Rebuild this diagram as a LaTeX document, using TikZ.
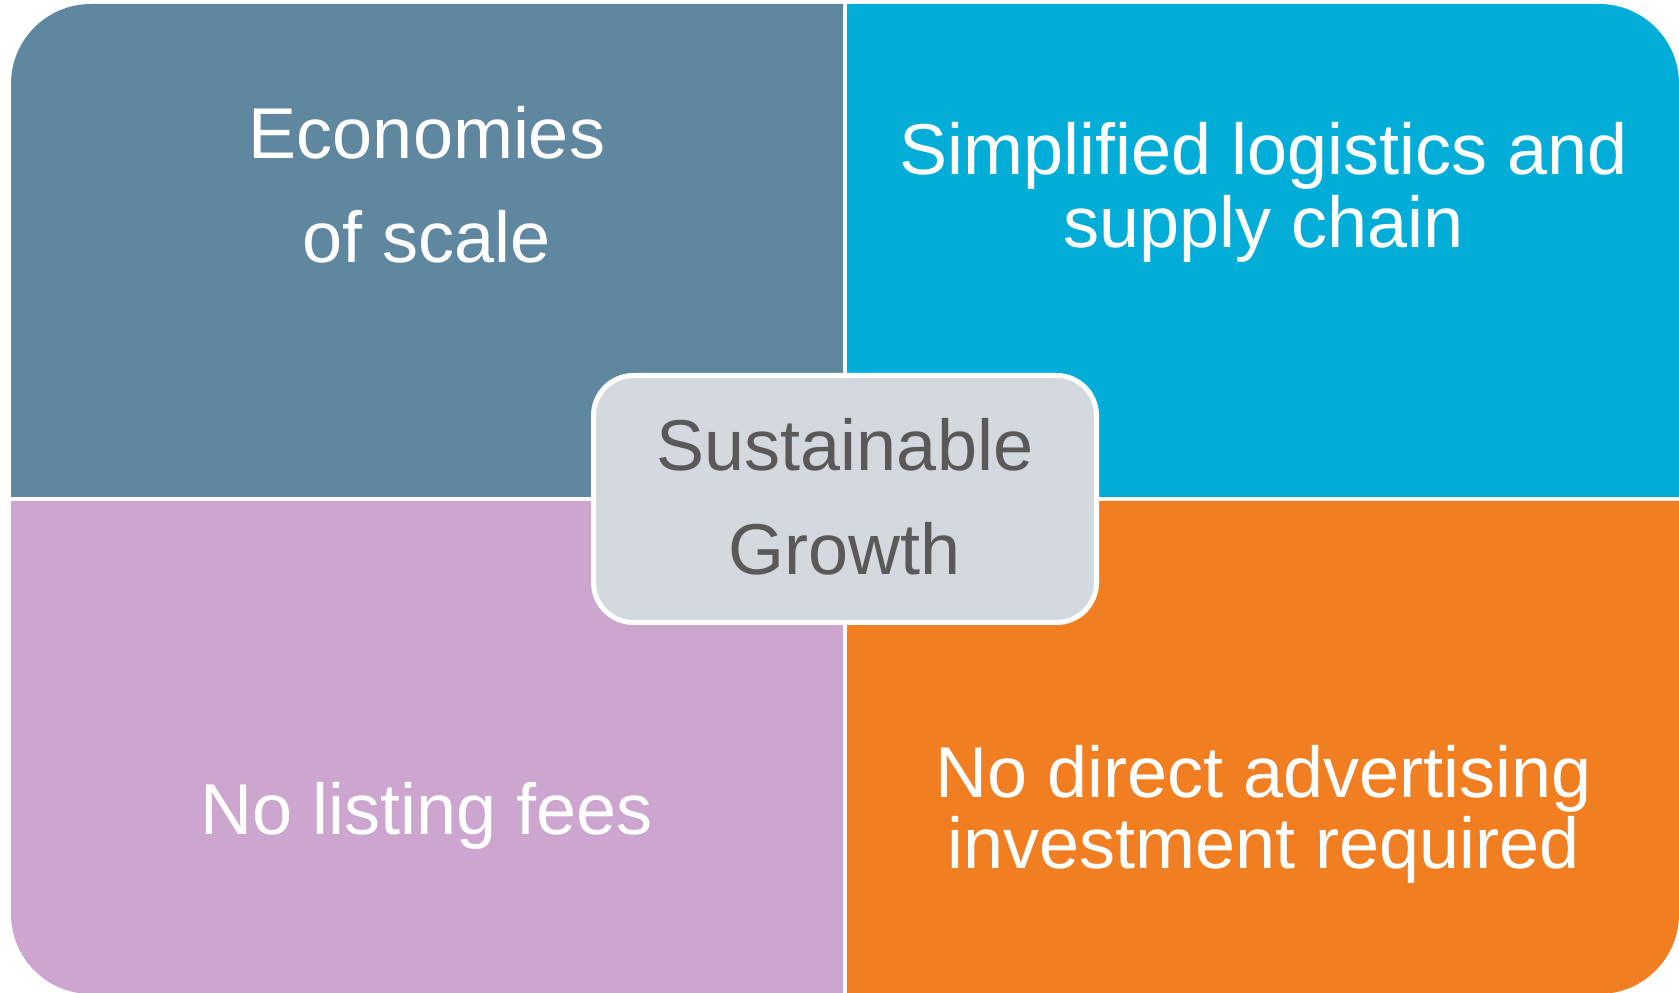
\documentclass[tikz,border=0pt]{standalone}
\usepackage{fontspec}
\setmainfont{Liberation Sans}
\begin{document}
\begin{tikzpicture}[x=1pt,y=1pt,
  quadtext/.style={anchor=base,inner sep=0pt,text=white,font=\fontsize{72}{86}\selectfont},
  hubtext/.style={anchor=base,inner sep=0pt,text=hubtxt,font=\fontsize{72}{86}\selectfont}]
\definecolor{qtl}{RGB}{95,135,160}
\definecolor{qtr}{RGB}{2,174,216}
\definecolor{qbl}{RGB}{204,166,206}
\definecolor{qbr}{RGB}{242,126,34}
\definecolor{hubfill}{RGB}{211,217,223}
\definecolor{hubtxt}{RGB}{89,89,89}
\useasboundingbox (0,0) rectangle (1679,993);
% four quadrants, each rounded at its outer corner
\fill[qtl] (843,496) -- (11,496) -- (11,909) arc[start angle=180,end angle=90,radius=80] -- (843,989) -- cycle;
\fill[qtr] (847,496) -- (847,989) -- (1599,989) arc[start angle=90,end angle=0,radius=80] -- (1679,496) -- cycle;
\fill[qbl] (843,492) -- (843,-1) -- (91,-1) arc[start angle=270,end angle=180,radius=80] -- (11,492) -- cycle;
\fill[qbr] (847,492) -- (1679,492) -- (1679,79) arc[start angle=0,end angle=-90,radius=80] -- (847,-1) -- cycle;
% central hub
\node[draw=white,line width=5pt,fill=hubfill,rounded corners=40pt,minimum width=503pt,minimum height=247pt,inner sep=0pt] (hub) at (845,494) {};
\node[hubtext] (hub1) at (845,522) {Sustainable};
\node[hubtext] (hub2) at (845,418) {Growth};
% quadrant labels
\node[quadtext] (tl1) at (427,834) {Economies};
\node[quadtext] (tl2) at (427,730) {of scale};
\node[quadtext] (tr1) at (1264,818) {Simplified logistics and};
\node[quadtext] (tr2) at (1264,745) {supply chain};
\node[quadtext] (bl1) at (427,158) {No listing fees};
\node[quadtext] (br1) at (1264,195) {No direct advertising};
\node[quadtext] (br2) at (1264,124) {investment required};
\end{tikzpicture}
\end{document}
